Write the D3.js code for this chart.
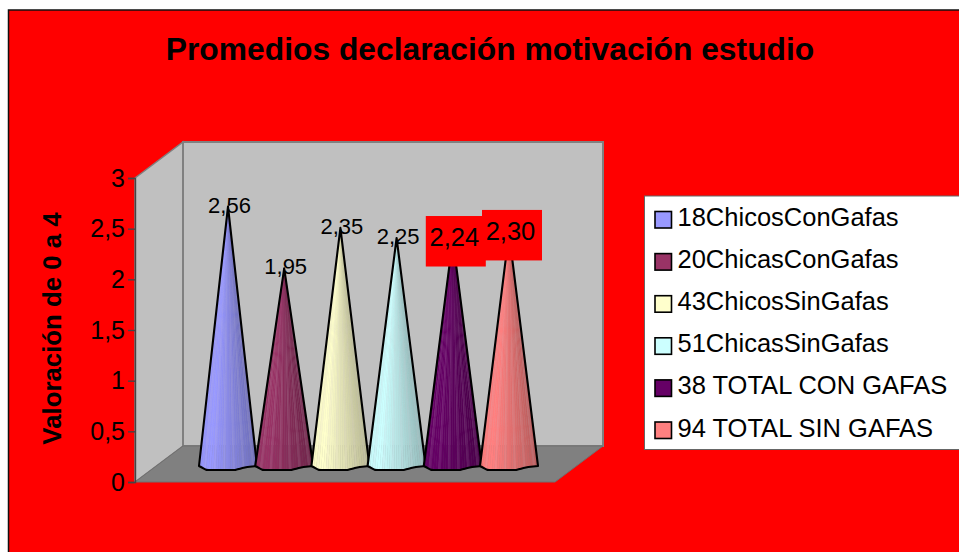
<!DOCTYPE html>
<html><head><meta charset="utf-8">
<style>html,body{margin:0;padding:0;background:#fff;overflow:hidden}svg{display:block}text{font-family:"Liberation Sans",Arial,sans-serif;fill:#000}</style>
<script src="https://cdn.jsdelivr.net/npm/d3@7"></script></head><body>
<script>
const chartTitle = "Promedios declaración motivación estudio";
const yTitle = "Valoración de 0 a 4";
const categories = ["18ChicosConGafas","20ChicasConGafas","43ChicosSinGafas","51ChicasSinGafas","38 TOTAL CON GAFAS","94 TOTAL SIN GAFAS"];
const values = [2.56,1.95,2.35,2.25,2.24,2.30];
const valueLabels = ["2,56","1,95","2,35","2,25","2,24","2,30"];
const colors = ["#9999FF","#993366","#FFFFCC","#CCFFFF","#660066","#FF8080"];
const yTicks = [0,0.5,1,1.5,2,2.5,3];
const filledLabels = [false,false,false,false,true,true];

const W=959,H=552;
const svg=d3.select("body").append("svg").attr("width",W).attr("height",H);
svg.append("rect").attr("x",8.5).attr("y",10).attr("width",W).attr("height",H).attr("fill","#FF0000").attr("stroke","#111").attr("stroke-width",1.5);
svg.append("text").attr("x",490).attr("y",60).attr("text-anchor","middle").attr("font-size",31.8).attr("font-weight","bold").text(chartTitle);

const front={l:135,r:555,b:482,t:178}, depth={x:48,y:36};
const y=d3.scaleLinear().domain([0,3]).range([front.b,front.t]);
const x=d3.scalePoint().domain(categories).range([228,509]);
const coneY=v=>y(v)-16;
const coneHalf=29;

const poly=p=>"M"+p.map(d=>d.join(",")).join("L")+"Z";
const bl=front.l+depth.x, br=front.r+depth.x, bt=front.t-depth.y, bb=front.b-depth.y;
svg.append("path").attr("d",poly([[front.l,front.t],[bl,bt],[bl,bb],[front.l,front.b]])).attr("fill","#C0C0C0").attr("stroke","#808080").attr("stroke-width",1.5);
svg.append("path").attr("d",poly([[bl,bt],[br,bt],[br,bb],[bl,bb]])).attr("fill","#C0C0C0").attr("stroke","#808080").attr("stroke-width",2);
svg.append("path").attr("d",poly([[front.l,front.b],[front.r,front.b],[br,bb],[bl,bb]])).attr("fill","#808080").attr("stroke","#707070").attr("stroke-width",1);

const axis=d3.axisLeft(y).tickValues(yTicks).tickSize(7).tickPadding(3).tickFormat(d=>String(d).replace(".",","));
const ax=svg.append("g").attr("transform",`translate(${front.l},0)`).call(axis);
ax.selectAll("text").attr("font-size",25).attr("font-family",'"Liberation Sans",Arial,sans-serif').attr("fill","#000");
ax.selectAll("line,path").attr("stroke","#444").attr("stroke-width",1.4);
svg.append("text").attr("transform","translate(61,328.5) rotate(-90)").attr("text-anchor","middle").attr("font-size",25.8).attr("font-weight","bold").text(yTitle);

const N=24;
const baseY=t=>{
  const k=[[0,0],[0.13,4],[0.62,4],[0.82,1],[1,0]];
  for(let i=1;i<k.length;i++) if(t<=k[i][0]){const a=k[i-1],b=k[i];return a[1]+(b[1]-a[1])*(t-a[0])/(b[0]-a[0]);}
  return 0;
};
const shade=(c,i)=>{
  const t=(i+.5)/N;
  const base=d3.color(c);
  const f=t<0.2?1-0.03*(0.2-t)/0.2:1-0.27*(t-0.2)/0.8;
  const out=d3.rgb(base.r*f,base.g*f,base.b*f);
  if(i%4===2) return d3.rgb(d3.interpolateRgb(out,"#d8c8d8")(0.12)).formatRgb();
  return out.formatRgb();
};
categories.forEach((cat,idx)=>{
  const cx=x(cat), tip=coneY(values[idx]), by=front.b-16;
  const g=svg.append("g");
  const px=t=>cx-coneHalf+2*coneHalf*t;
  const py=t=>by+baseY(t);
  d3.range(N).forEach(i=>{
    const a=i/N,b=(i+1)/N, col=shade(colors[idx],i);
    g.append("path").attr("d",poly([[cx,tip],[px(a),py(a)],[px(b),py(b)]])).attr("fill",col).attr("stroke",col).attr("stroke-width",0.4);
  });
  const out=[[cx,tip]].concat(d3.range(N+1).map(i=>[px(i/N),py(i/N)]));
  g.append("path").attr("d",poly(out)).attr("fill","none").attr("stroke","#000").attr("stroke-width",2.1).attr("stroke-linejoin","round");
});

categories.forEach((cat,idx)=>{
  const cx=x(cat)+1.5, tip=coneY(values[idx]);
  if(filledLabels[idx]){
    svg.append("rect").attr("x",cx-28.5).attr("y",tip-23).attr("width",60).attr("height",50.5).attr("fill","#FF0000");
    svg.append("text").attr("x",cx).attr("y",tip+7).attr("text-anchor","middle").attr("font-size",25.5).text(valueLabels[idx]);
  } else {
    svg.append("text").attr("x",cx).attr("y",tip+6).attr("text-anchor","middle").attr("font-size",22).text(valueLabels[idx]);
  }
});

svg.append("rect").attr("x",644.5).attr("y",196).attr("width",320).attr("height",253.5).attr("fill","#fff").attr("stroke","#666").attr("stroke-width",1);
const ly=d3.scalePoint().domain(categories).range([219.5,430]);
categories.forEach((cat,idx)=>{
  svg.append("rect").attr("x",655).attr("y",ly(cat)-8).attr("width",16.5).attr("height",16.5).attr("fill",colors[idx]).attr("stroke","#000").attr("stroke-width",1.6);
  svg.append("text").attr("x",677.5).attr("y",ly(cat)+6.5).attr("font-size",25.5).text(cat);
});
</script></body></html>
